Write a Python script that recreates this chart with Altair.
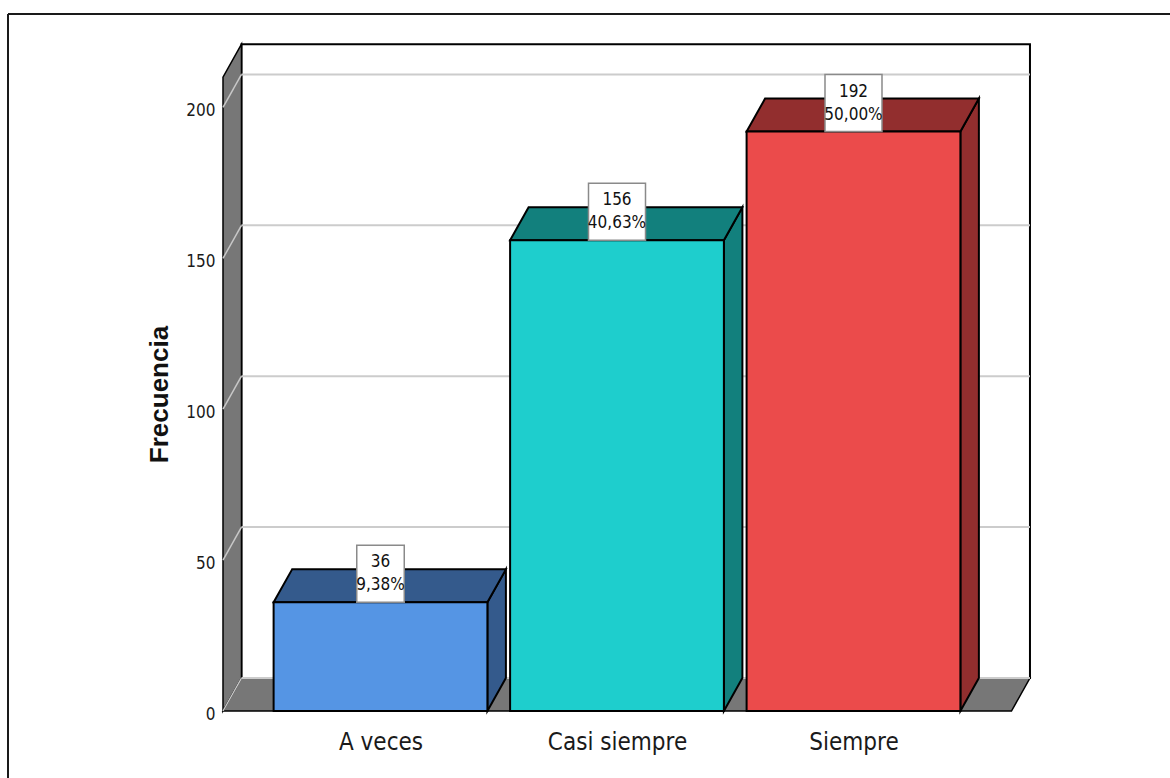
import altair as alt
import pandas as pd

# ---------------- data ----------------
categories = ["A veces", "Casi siempre", "Siempre"]
counts = [36, 156, 192]
percents = ["9,38%", "40,63%", "50,00%"]
front_colors = ["#5595E4", "#1ECECD", "#EB4B4B"]
side_colors = ["#345A8C", "#12807D", "#922E2E"]
y_ticks = [0, 50, 100, 150, 200]
y_top = 210

# ---------------- layout constants ----------------
W, H = 1162, 764
X_LO, X_HI = -1.5751, 3.3383      # category units across the view
Y_LO, Y_HI = -22.2, 230.95        # value units across the view
HALF = 0.452                      # half bar width (category units)
DX = 0.0782                       # depth offset in x (category units)
DY = 10.93                        # depth offset in y (value units)
P_L, P_R = 1 - 1.666, 1 + 1.668   # front plane extent
BOX_H = 18.9                      # label box height (value units)
PX_PER_CAT = 236.5

NARROW = "Liberation Sans Narrow, Arial Narrow, DejaVu Sans Condensed, sans-serif"

xs = alt.Scale(domain=[X_LO, X_HI], nice=False, zero=False)
ys = alt.Scale(domain=[Y_LO, Y_HI], nice=False, zero=False)

label_expr = "[" + ",".join("'" + c + "'" for c in categories) + "][datum.value]"

X_AXIS = alt.Axis(
    values=[0, 1, 2], labelExpr=label_expr, orient="bottom", offset=-67,
    domain=False, ticks=False, grid=False, labelPadding=19, title=None,
    labelFont=NARROW, labelFontSize=24, labelColor="#1a1a1a",
    labelOverlap=False, labelFlush=False)
Y_AXIS = alt.Axis(
    values=y_ticks, orient="left", offset=-215, domain=False, ticks=False,
    grid=False, labelPadding=8, labelOffset=3, labelFont=NARROW, labelFontSize=17,
    labelColor="#1a1a1a", title="Frecuencia", titleFont="Liberation Sans",
    titleFontSize=26, titleFontWeight="bold", titleColor="#111111",
    titleAngle=270, titleX=-64, titleY=380, titleAlign="center",
    titleBaseline="middle")


def X(field, **kw):
    return alt.X(field, scale=xs, axis=X_AXIS, **kw)


def Y(field, **kw):
    return alt.Y(field, scale=ys, axis=Y_AXIS, **kw)


# bars
bars = pd.DataFrame({
    "cat": categories,
    "i": list(range(len(categories))),
    "v": counts,
    "pct": percents,
})
bars["x0"] = bars["i"] - HALF
bars["x1"] = bars["i"] + HALF
bars["zero"] = 0
bars["bw"] = bars["pct"].str.len() * 9.5 / 2 / PX_PER_CAT
bars["bx0"] = bars["i"] - bars["bw"]
bars["bx1"] = bars["i"] + bars["bw"]
bars["btop"] = bars["v"] + BOX_H

side_rows, top_rows = [], []
for i, (c, v) in enumerate(zip(categories, counts)):
    side_rows.append({"side": c, "u": i + HALF, "lo": 0, "hi": v})
    side_rows.append({"side": c, "u": i + HALF + DX, "lo": DY, "hi": v + DY})
    top_rows.append({"side": c, "yv": v, "xa": i - HALF, "xb": i + HALF})
    top_rows.append({"side": c, "yv": v + DY, "xa": i - HALF + DX, "xb": i + HALF + DX})
side = pd.DataFrame(side_rows)
top = pd.DataFrame(top_rows)

back_wall = pd.DataFrame([{"xa": P_L + DX, "xb": P_R + DX, "ya": DY, "yb": y_top + DY}])
left_wall = pd.DataFrame([{"u": P_L, "lo": 0, "hi": y_top},
                          {"u": P_L + DX, "lo": DY, "hi": y_top + DY}])
floor = pd.DataFrame([{"yv": 0, "xa": P_L, "xb": P_R},
                      {"yv": DY, "xa": P_L + DX, "xb": P_R + DX}])
grid = pd.DataFrame({"t": y_ticks})
grid["tb"] = grid["t"] + DY
grid["xl"] = P_L
grid["xm"] = P_L + DX
grid["xr"] = P_R + DX

one = pd.DataFrame([{"a": 0}])

back_layer = alt.Chart(back_wall).mark_rect(fill="white", stroke="black", strokeWidth=2).encode(
    x=X("xa:Q"), x2="xb:Q", y=Y("ya:Q"), y2="yb:Q")

left_layer = alt.Chart(left_wall).mark_area(fill="#777777", stroke="black", strokeWidth=1.5,
                                            orient="vertical").encode(
    x=X("u:Q"), y=Y("lo:Q", stack=False), y2="hi:Q")

floor_layer = alt.Chart(floor).mark_area(fill="#777777", stroke="black", strokeWidth=1.5,
                                         orient="horizontal").encode(
    y=Y("yv:Q"), x=X("xa:Q", stack=False), x2="xb:Q")

grid_back = alt.Chart(grid).mark_rule(color="#CCCCCC", strokeWidth=2).encode(
    x=X("xm:Q"), x2="xr:Q", y=Y("tb:Q"))
grid_diag = alt.Chart(grid).mark_rule(color="#C8C8C8", strokeWidth=1.5).encode(
    x=X("xl:Q"), x2="xm:Q", y=Y("t:Q"), y2="tb:Q")

dark_scale = alt.Scale(domain=categories, range=side_colors)

side_layer = alt.Chart(side).mark_area(stroke="black", strokeWidth=2, orient="vertical").encode(
    x=X("u:Q"), y=Y("lo:Q", stack=False), y2="hi:Q",
    color=alt.Color("side:N", scale=dark_scale, legend=None))

top_layer = alt.Chart(top).mark_area(stroke="black", strokeWidth=2, orient="horizontal").encode(
    y=Y("yv:Q"), x=X("xa:Q", stack=False), x2="xb:Q",
    color=alt.Color("side:N", scale=dark_scale, legend=None))

front_layer = alt.Chart(bars).mark_rect(stroke="black", strokeWidth=2).encode(
    x=X("x0:Q"), x2="x1:Q", y=Y("zero:Q"), y2="v:Q",
    fill=alt.Fill("cat:N", scale=alt.Scale(domain=categories, range=front_colors), legend=None))

box_layer = alt.Chart(bars).mark_rect(fill="white", stroke="#8a8a8a", strokeWidth=1.5).encode(
    x=X("bx0:Q"), x2="bx1:Q", y=Y("v:Q"), y2="btop:Q")

txt_count = alt.Chart(bars).mark_text(font=NARROW, fontSize=17, dy=-40, color="#111111",
                                      baseline="middle", align="center").encode(
    x=X("i:Q"), y=Y("v:Q"), text="v:Q")
txt_pct = alt.Chart(bars).mark_text(font=NARROW, fontSize=17, dy=-17, color="#111111",
                                    baseline="middle", align="center").encode(
    x=X("i:Q"), y=Y("v:Q"), text="pct:N")

frame_left = alt.Chart(one).mark_rule(color="#1a1a1a", strokeWidth=2).encode(
    x=alt.value(0), y=alt.value(0), y2=alt.value(H))
frame_top = alt.Chart(one).mark_rule(color="#1a1a1a", strokeWidth=2).encode(
    x=alt.value(0), x2=alt.value(W), y=alt.value(0))

chart = alt.layer(
    back_layer, left_layer, floor_layer, grid_back, grid_diag,
    side_layer, top_layer, front_layer, box_layer, txt_count, txt_pct,
    frame_left, frame_top,
).resolve_scale(
    color="independent", fill="independent"
).properties(
    width=W, height=H,
    padding={"left": 8, "top": 14, "right": 0, "bottom": 0},
    autosize=alt.AutoSizeParams(type="none"),
    background="white",
).configure_view(stroke="transparent")

chart.save("out.html", embed_options={"renderer": "svg", "actions": False})
